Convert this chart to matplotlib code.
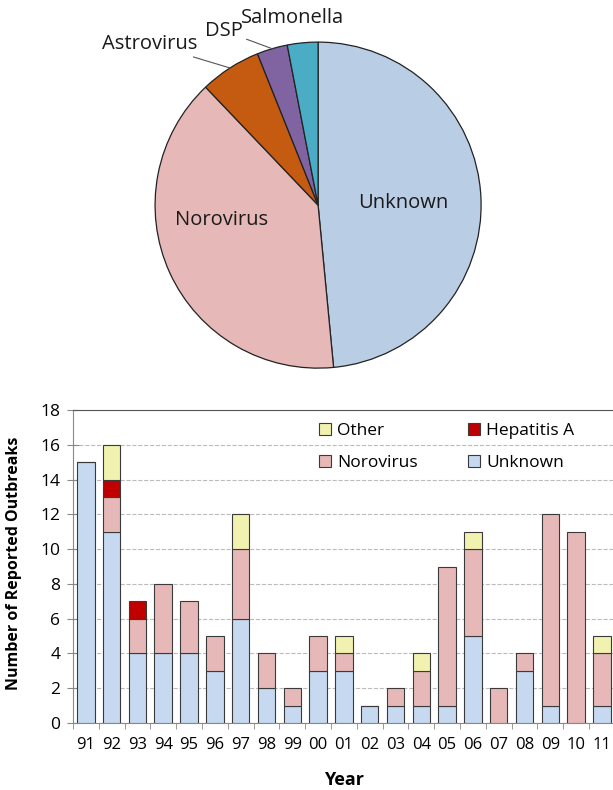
import numpy as np
import matplotlib
matplotlib.use("Agg")
import matplotlib.pyplot as plt

plt.rcParams['font.family'] = ['Open Sans', 'DejaVu Sans']

# pie data (share of outbreaks by agent)
pie_labels = ['Unknown', 'Norovirus', 'Astrovirus', 'DSP', 'Salmonella']
pie_values = [16, 13, 2, 1, 1]
pie_colors = ['#b9cde5', '#e6b9b8', '#c55a11', '#8064a2', '#4bacc6']

# bar data per year
years = ['91', '92', '93', '94', '95', '96', '97', '98', '99', '00', '01',
         '02', '03', '04', '05', '06', '07', '08', '09', '10', '11']
unknown = [15, 11, 4, 4, 4, 3, 6, 2, 1, 3, 3, 1, 1, 1, 1, 5, 0, 3, 1, 0, 1]
norovirus = [0, 2, 2, 4, 3, 2, 4, 2, 1, 2, 1, 0, 1, 2, 8, 5, 2, 1, 11, 11, 3]
hepatitis_a = [0, 1, 1, 0, 0, 0, 0, 0, 0, 0, 0, 0, 0, 0, 0, 0, 0, 0, 0, 0, 0]
other = [0, 2, 0, 0, 0, 0, 2, 0, 0, 0, 1, 0, 0, 1, 0, 1, 0, 0, 0, 0, 1]

fig = plt.figure(figsize=(6.13, 7.9), dpi=100)

# ---- pie ----
ax1 = fig.add_axes([0.2529, 0.534, 0.532, 0.4127])
wedges, _ = ax1.pie(pie_values, colors=pie_colors, startangle=90, counterclock=False,
                    wedgeprops=dict(edgecolor='#222222', linewidth=0.9))
ax1.set_xlim(-1, 1)
ax1.set_ylim(-1, 1)
ax1.set_aspect('equal')
ax1.axis('off')

def mid_xy(w, r=1.0):
    a = np.deg2rad((w.theta1 + w.theta2) / 2)
    return r * np.cos(a), r * np.sin(a)

pfs = 14.5
ax1.text(0.52, 0.01, 'Unknown', fontsize=pfs, ha='center', va='center', color='#1a1a1a')
ax1.text(-0.59, -0.09, 'Norovirus', fontsize=pfs, ha='center', va='center', color='#1a1a1a')
ax1.annotate('Astrovirus', xy=mid_xy(wedges[2]), xytext=(-0.74, 0.99),
             fontsize=pfs, ha='right', va='center', color='#1a1a1a',
             arrowprops=dict(arrowstyle='-', color='#555555', lw=0.8, shrinkA=1, shrinkB=0))
ax1.annotate('DSP', xy=mid_xy(wedges[3]), xytext=(-0.58, 1.07),
             fontsize=pfs, ha='center', va='center', color='#1a1a1a',
             arrowprops=dict(arrowstyle='-', color='#555555', lw=0.8, shrinkA=1, shrinkB=0))
ax1.annotate('Salmonella', xy=mid_xy(wedges[4]), xytext=(-0.16, 1.15),
             fontsize=pfs, ha='center', va='center', color='#1a1a1a')

# ---- stacked bars ----
ax2 = fig.add_axes([0.119, 0.0848, 0.884, 0.3962])
x = np.arange(len(years))
w = 0.68
ec = '#3a3a3a'
b_unk = ax2.bar(x, unknown, w, color='#c6d9f1', edgecolor=ec, linewidth=0.8, label='Unknown', zorder=3)
bottom = np.array(unknown)
b_nor = ax2.bar(x, norovirus, w, bottom=bottom, color='#e6b9b8', edgecolor=ec, linewidth=0.8,
                label='Norovirus', zorder=3)
bottom = bottom + np.array(norovirus)
hm = np.array(hepatitis_a) > 0
b_hep = ax2.bar(x[hm], np.array(hepatitis_a)[hm], w, bottom=bottom[hm], color='#c00000',
                edgecolor=ec, linewidth=0.8, label='Hepatitis A', zorder=3)
bottom = bottom + np.array(hepatitis_a)
om = np.array(other) > 0
b_oth = ax2.bar(x[om], np.array(other)[om], w, bottom=bottom[om], color='#f2f2b0',
                edgecolor=ec, linewidth=0.8, label='Other', zorder=3)

ax2.set_xlim(-0.5, len(years) - 0.5)
ax2.set_ylim(0, 18)
ax2.set_yticks(np.arange(0, 19, 2))
ax2.set_xticks(x)
ax2.set_xticklabels(years)
ax2.set_xticks(np.arange(-0.5, len(years), 1), minor=True)
ax2.tick_params(axis='x', which='major', length=0, labelsize=12, pad=10)
ax2.tick_params(axis='x', which='minor', length=4, color='#888888')
ax2.tick_params(axis='y', length=8, direction='inout', color='#888888', labelsize=12.5, pad=5)
ax2.grid(axis='y', linestyle='--', color='#bbbbbb', linewidth=0.8, zorder=0)
for s in ['left', 'bottom']:
    ax2.spines[s].set_color('#888888')
ax2.spines['top'].set_color('#555555')
ax2.spines['right'].set_visible(False)

ax2.set_ylabel('Number of Reported Outbreaks', fontsize=11.5, fontweight='bold')
ax2.yaxis.set_label_coords(-0.094, 0.51)
ax2.set_xlabel('Year', fontsize=13, fontweight='bold', labelpad=13)

ax2.legend([b_oth, b_nor, b_hep, b_unk], ['Other', 'Norovirus', 'Hepatitis A', 'Unknown'],
           ncol=2, frameon=False, fontsize=12.5, loc='upper left',
           bbox_to_anchor=(0.425, 1.008), handlelength=0.7, handleheight=0.7,
           handletextpad=0.35, columnspacing=2.9, labelspacing=0.9)

fig.savefig('out.png', dpi=100)
